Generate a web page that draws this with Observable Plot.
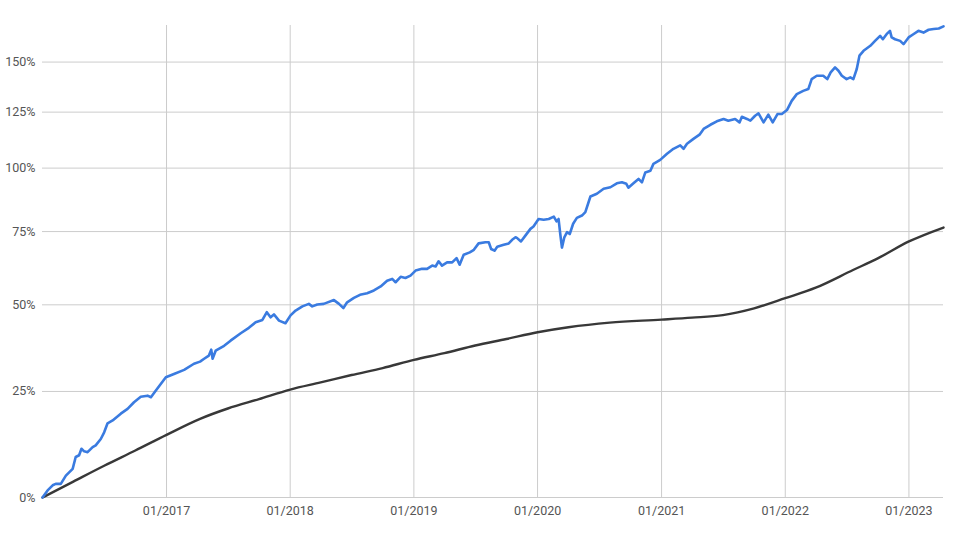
<!DOCTYPE html>
<html>
<head>
<meta charset="utf-8">
<script src="https://cdn.jsdelivr.net/npm/d3@7"></script>
<script src="https://cdn.jsdelivr.net/npm/@observablehq/plot@0.6"></script>
<style>
  html, body { margin: 0; padding: 0; background: #fff; }
  #chart svg { display: block; }
</style>
</head>
<body>
<div id="chart"></div>
<script>
// Blue series: cumulative return (%)
const blueDates = [
  "2016-01-01","2016-01-16","2016-01-31","2016-02-09","2016-02-24","2016-03-10","2016-03-30","2016-04-08","2016-04-18","2016-04-25",
  "2016-05-03","2016-05-13","2016-05-28","2016-06-06","2016-06-21","2016-07-01","2016-07-11","2016-07-26","2016-08-19","2016-09-08",
  "2016-09-27","2016-10-17","2016-11-06","2016-11-16","2016-11-30","2016-12-15","2016-12-30","2017-01-23","2017-02-22","2017-03-23",
  "2017-04-10","2017-04-22","2017-05-06","2017-05-13","2017-05-17","2017-05-26","2017-06-20","2017-07-09","2017-08-08","2017-09-01",
  "2017-09-21","2017-10-11","2017-10-24","2017-11-04","2017-11-14","2017-11-29","2017-12-18","2018-01-02","2018-01-17","2018-02-06",
  "2018-02-25","2018-03-07","2018-03-22","2018-04-10","2018-05-10","2018-05-25","2018-06-07","2018-06-18","2018-07-08","2018-07-26",
  "2018-08-16","2018-09-05","2018-09-25","2018-10-14","2018-10-29","2018-11-08","2018-11-23","2018-12-07","2018-12-22","2019-01-06",
  "2019-01-25","2019-02-09","2019-02-24","2019-03-06","2019-03-15","2019-03-25","2019-04-09","2019-04-24","2019-05-07","2019-05-16",
  "2019-05-28","2019-06-15","2019-06-27","2019-07-11","2019-07-31","2019-08-10","2019-08-17","2019-08-27","2019-09-04","2019-09-23",
  "2019-10-08","2019-10-18","2019-10-28","2019-11-01","2019-11-13","2019-11-26","2019-12-11","2019-12-20","2020-01-04","2020-01-19",
  "2020-02-03","2020-02-18","2020-02-26","2020-03-03","2020-03-08","2020-03-13","2020-03-20","2020-03-28","2020-04-05","2020-04-15",
  "2020-04-26","2020-05-11","2020-05-21","2020-06-05","2020-06-24","2020-07-14","2020-08-03","2020-08-22","2020-09-06","2020-09-19",
  "2020-09-25","2020-10-10","2020-10-25","2020-11-04","2020-11-14","2020-11-29","2020-12-08","2020-12-28","2021-01-17","2021-02-05",
  "2021-02-25","2021-03-07","2021-03-17","2021-04-05","2021-04-23","2021-05-05","2021-05-25","2021-06-13","2021-07-03","2021-07-17",
  "2021-08-06","2021-08-19","2021-08-26","2021-09-10","2021-09-20","2021-10-04","2021-10-14","2021-10-29","2021-11-12","2021-11-25",
  "2021-12-09","2021-12-22","2022-01-06","2022-01-20","2022-02-04","2022-02-23","2022-03-10","2022-03-20","2022-04-04","2022-04-23",
  "2022-05-05","2022-05-15","2022-05-28","2022-06-07","2022-06-17","2022-07-01","2022-07-12","2022-07-21","2022-07-31","2022-08-08",
  "2022-08-20","2022-09-09","2022-09-23","2022-10-08","2022-10-16","2022-10-27","2022-11-06","2022-11-11","2022-11-21","2022-12-06",
  "2022-12-16","2022-12-31","2023-01-14","2023-01-29","2023-02-13","2023-02-28","2023-03-15","2023-03-30","2023-04-13"
];
const bluePct = [
  0, 1.5, 2.6, 2.9, 2.9, 4.7, 6.2, 8.9, 9.3, 10.8,
  10.2, 10.0, 11.2, 11.6, 13.1, 14.7, 16.9, 17.6, 19.3, 20.5,
  22.2, 23.6, 23.9, 23.5, 25.2, 27.0, 28.8, 29.7, 30.8, 32.5,
  33.1, 33.9, 34.8, 36.5, 33.9, 36.2, 37.6, 39.1, 41.3, 42.9,
  44.6, 45.3, 47.7, 46.1, 47.0, 45.1, 44.3, 46.7, 48.2, 49.5,
  50.3, 49.5, 50.1, 50.3, 51.5, 50.3, 49.0, 50.8, 52.2, 53.2,
  53.7, 54.6, 55.9, 57.8, 58.4, 57.3, 59.1, 58.7, 59.5, 61.2,
  61.8, 61.8, 62.9, 62.6, 64.4, 62.9, 64.0, 64.0, 65.5, 63.2,
  66.7, 67.5, 68.4, 70.7, 71.1, 71.1, 68.7, 68.1, 69.5, 70.2,
  70.7, 72.0, 72.9, 72.7, 71.4, 73.5, 76.0, 76.9, 79.7, 79.4,
  79.7, 80.6, 78.8, 79.7, 74.1, 69.2, 72.9, 74.8, 74.1, 77.9,
  80.1, 81.0, 82.3, 88.4, 89.5, 91.5, 92.1, 93.7, 94.1, 93.5,
  91.9, 93.7, 95.5, 94.1, 98.2, 98.9, 101.8, 103.5, 106.1, 108.3,
  109.8, 108.3, 110.5, 112.7, 114.6, 117.2, 119.1, 120.7, 121.8, 121.0,
  121.8, 120.2, 122.8, 121.8, 121.0, 123.3, 124.4, 120.2, 123.8, 120.2,
  124.1, 124.1, 126.0, 130.4, 133.7, 135.3, 136.2, 141.2, 142.9, 142.9,
  141.2, 144.6, 147.2, 145.5, 142.9, 141.2, 142.1, 141.2, 146.4, 153.4,
  156.0, 158.7, 161.4, 164.2, 162.3, 165.1, 167.0, 163.3, 162.3, 161.4,
  159.6, 163.3, 165.1, 167.0, 166.0, 167.6, 168.0, 168.3, 169.5
];

// Dark series: smooth benchmark (%)
const darkDates = [
  "2016-01-01","2016-04-01","2016-07-01","2016-10-01","2017-01-01","2017-04-10","2017-07-01","2017-10-01","2018-01-01","2018-04-01",
  "2018-07-01","2018-10-01","2019-01-01","2019-04-01","2019-07-01","2019-10-01","2020-01-01","2020-04-01","2020-08-01","2021-01-01",
  "2021-04-01","2021-07-01","2021-10-01","2022-01-01","2022-04-01","2022-07-20","2022-10-01","2023-01-01","2023-04-13"
];
const darkPct = [
  0, 3.4, 6.9, 10.4, 14.1, 18.0, 20.6, 23.0, 25.5, 27.4,
  29.4, 31.3, 33.6, 35.5, 37.7, 39.6, 41.6, 43.1, 44.5, 45.4,
  46.0, 46.8, 48.9, 52.1, 55.5, 61.4, 65.4, 71.4, 76.5
];

const yTicks = [0, 25, 50, 75, 100, 125, 150];
const xTicks = ["2017-01-01","2018-01-01","2019-01-01","2020-01-01","2021-01-01","2022-01-01","2023-01-01"];

const parse = d3.utcParse("%Y-%m-%d");
const blue = blueDates.map((d, i) => ({date: parse(d), g: 1 + bluePct[i] / 100}));
const dark = darkDates.map((d, i) => ({date: parse(d), g: 1 + darkPct[i] / 100}));
const yTickVals = yTicks.map(t => 1 + t / 100);
const xTickVals = xTicks.map(parse);

const chart = Plot.plot({
  width: 963,
  height: 534,
  marginLeft: 42,
  marginRight: 20,
  marginTop: 25,
  marginBottom: 37,
  style: {fontFamily: "Roboto, 'Liberation Sans', Arial, sans-serif", fontSize: "12.5px", color: "#555", background: "#fff"},
  x: {type: "utc", domain: [parse("2016-01-01"), parse("2023-04-13")], ticks: xTickVals, tickFormat: d3.utcFormat("%m/%Y"), tickSize: 0, tickPadding: 9, label: null},
  y: {type: "log", domain: [1, 2.70], ticks: yTickVals, tickFormat: d => Math.round((d - 1) * 100) + "%", tickSize: 0, tickPadding: 7, label: null},
  marks: [
    Plot.gridY(yTickVals, {stroke: "#cccccc", strokeOpacity: 1, strokeWidth: 1}),
    Plot.gridX(xTickVals, {stroke: "#cccccc", strokeOpacity: 1, strokeWidth: 1}),
    Plot.axisY({ticks: yTickVals, tickFormat: d => Math.round((d - 1) * 100) + "%", tickSize: 0, tickPadding: 7, label: null}),
    Plot.axisX({ticks: xTickVals, tickFormat: d3.utcFormat("%m/%Y"), tickSize: 0, tickPadding: 9, label: null}),
    Plot.line(dark, {x: "date", y: "g", stroke: "#383838", strokeWidth: 2.4, curve: "monotone-x"}),
    Plot.line(blue, {x: "date", y: "g", stroke: "#3a7be0", strokeWidth: 2.6, strokeLinejoin: "round"})
  ]
});
document.getElementById("chart").appendChild(chart);
</script>
</body>
</html>
